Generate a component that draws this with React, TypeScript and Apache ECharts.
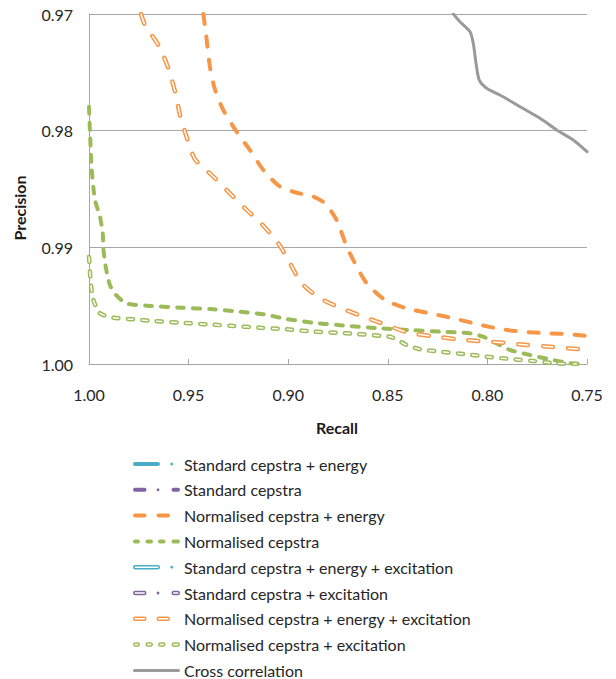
import React, { useEffect, useRef } from "react";
import * as echarts from "echarts";

// ---- data: [recall, precision] ----
const recallTicks = [1.0, 0.95, 0.9, 0.85, 0.8, 0.75];
const precisionTicks = [0.97, 0.98, 0.99, 1.0];

const standardEnergy: number[][] = [];
const standard: number[][] = [];
const standardEnergyExc: number[][] = [];
const standardExc: number[][] = [];

const normEnergy = [
  [0.9426, 0.97], [0.9413, 0.97165], [0.9393, 0.97452], [0.9367, 0.97651], [0.9326, 0.97823],
  [0.9259, 0.98009], [0.9192, 0.98166], [0.9125, 0.98337], [0.9041, 0.9848], [0.8957, 0.98532],
  [0.8874, 0.98566], [0.8815, 0.98623], [0.8757, 0.98766], [0.8706, 0.98995], [0.8656, 0.99166],
  [0.8606, 0.99308], [0.8514, 0.99451], [0.8405, 0.99523], [0.8288, 0.99566], [0.8171, 0.99608],
  [0.8054, 0.99657], [0.7937, 0.997], [0.7828, 0.99723], [0.7702, 0.99737], [0.7585, 0.99745],
  [0.75, 0.9976],
];

const normCep = [
  [1.0, 0.97795], [0.9995, 0.9802], [0.9986, 0.98337], [0.997, 0.98594], [0.9945, 0.98737],
  [0.9931, 0.9888], [0.9928, 0.99008], [0.9915, 0.99177], [0.9895, 0.99323], [0.9864, 0.99409],
  [0.9811, 0.9948], [0.971, 0.995], [0.9543, 0.99517], [0.9376, 0.99531], [0.9242, 0.99552],
  [0.9125, 0.99574], [0.9008, 0.99614], [0.8874, 0.99646], [0.8749, 0.99666], [0.8539, 0.99694],
  [0.8389, 0.99709], [0.8238, 0.99723], [0.8087, 0.99737], [0.8021, 0.99766], [0.797, 0.99809],
  [0.7886, 0.9988], [0.7786, 0.99923], [0.7686, 0.9996], [0.7602, 0.99989], [0.7535, 1.0],
];

const normEnergyExc = [
  [0.9739, 0.97], [0.9719, 0.97094], [0.9647, 0.9728], [0.9602, 0.97465], [0.9568, 0.97666],
  [0.9543, 0.97866], [0.951, 0.98052], [0.9468, 0.98245], [0.9384, 0.9838], [0.9301, 0.98523],
  [0.9217, 0.98665], [0.9128, 0.98809], [0.905, 0.98965], [0.8991, 0.99137], [0.8932, 0.99308],
  [0.884, 0.99437], [0.8731, 0.99523], [0.8623, 0.99594], [0.8506, 0.99666], [0.8397, 0.99732],
  [0.828, 0.9976], [0.8163, 0.99786], [0.8046, 0.99803], [0.792, 0.99817], [0.7803, 0.99837],
  [0.7686, 0.99852], [0.7569, 0.99869], [0.75, 0.99876],
];

const normExc = [
  [1.0, 0.99083], [0.9991, 0.99306], [0.9978, 0.99451], [0.9945, 0.99565], [0.9878, 0.99603],
  [0.9778, 0.99617], [0.9677, 0.99631], [0.9543, 0.99646], [0.9409, 0.9966], [0.9276, 0.99674],
  [0.9142, 0.99689], [0.9008, 0.99702], [0.8874, 0.99723], [0.8757, 0.99732], [0.8656, 0.99743],
  [0.8531, 0.9976], [0.848, 0.99771], [0.8405, 0.99837], [0.8338, 0.99874], [0.8238, 0.99894],
  [0.8121, 0.99914], [0.8004, 0.99937], [0.7886, 0.99957], [0.777, 0.99974], [0.7652, 0.99994],
  [0.7552, 1.0],
];

const crossCorr = [
  [0.8171, 0.97], [0.8138, 0.97066], [0.8087, 0.97152], [0.8071, 0.97251], [0.8057, 0.97423],
  [0.8041, 0.97566], [0.8004, 0.97637], [0.7937, 0.97694], [0.7836, 0.97795], [0.7736, 0.97894],
  [0.7652, 0.97994], [0.7569, 0.9808], [0.75, 0.9818],
];

// ---- styles ----
const TEAL = "#4BACC6";
const PURPLE = "#8064A2";
const ORANGE = "#F79646";
const GREEN = "#9BBB59";
const GRAY = "#9a9a9a";
const FONT = "Lato, 'Open Sans', sans-serif";
const AXIS_GRAY = "#a6a6a6";
const TEXT = "#262626";

type Entry = {
  name: string;
  data: number[][];
  color: string;
  hollow: boolean;
  width: number;
  dash: number[] | "solid";
  segs: number[][];
  dots: number[];
};

const entries: Entry[] = [
  { name: "Standard cepstra + energy", data: standardEnergy, color: TEAL, hollow: false, width: 4, dash: [14, 10, 0.1, 10], segs: [[0, 27]], dots: [38.7] },
  { name: "Standard cepstra", data: standard, color: PURPLE, hollow: false, width: 4, dash: [10, 8, 0.1, 8], segs: [[0, 13.5], [38.5, 47]], dots: [25] },
  { name: "Normalised cepstra + energy", data: normEnergy, color: ORANGE, hollow: false, width: 4, dash: [10, 13], segs: [[0, 13.5], [23.5, 37]], dots: [] },
  { name: "Normalised cepstra", data: normCep, color: GREEN, hollow: false, width: 4, dash: [7, 9], segs: [[0, 7], [12.5, 20], [25, 32.5], [38.5, 47]], dots: [] },
  { name: "Standard cepstra + energy + excitation", data: standardEnergyExc, color: TEAL, hollow: true, width: 4.5, dash: [14, 10, 0.1, 10], segs: [[0, 27]], dots: [38.7] },
  { name: "Standard cepstra + excitation", data: standardExc, color: PURPLE, hollow: true, width: 4.5, dash: [10, 8, 0.1, 8], segs: [[0, 13.5], [38.5, 47]], dots: [25] },
  { name: "Normalised cepstra + energy + excitation", data: normEnergyExc, color: ORANGE, hollow: true, width: 4.5, dash: [10, 15], segs: [[0, 13.5], [23.5, 37]], dots: [] },
  { name: "Normalised cepstra + excitation", data: normExc, color: GREEN, hollow: true, width: 4.5, dash: [5, 9.5], segs: [[0, 7], [12.5, 20], [25, 32.5], [38.5, 47]], dots: [] },
  { name: "Cross correlation", data: crossCorr, color: GRAY, hollow: false, width: 3, dash: "solid", segs: [[0, 47]], dots: [] },
];

export default function App() {
  const ref = useRef<HTMLDivElement>(null);

  useEffect(() => {
    if (!ref.current) return;
    const chart = echarts.init(ref.current, undefined, { renderer: "svg" });

    const series: any[] = [];
    entries.forEach((e) => {
      series.push({
        type: "line",
        name: e.name,
        data: e.data,
        showSymbol: false,
        symbol: "none",
        smooth: 0.25,
        clip: true,
        lineStyle: { color: e.color, width: e.width, type: e.dash, cap: "round", join: "round" },
        itemStyle: { color: e.color },
        z: 3,
      });
      if (e.hollow) {
        series.push({
          type: "line",
          name: e.name + " ",
          data: e.data,
          showSymbol: false,
          symbol: "none",
          smooth: 0.25,
          clip: true,
          lineStyle: { color: "#ffffff", width: 1.5, type: e.dash, cap: "round", join: "round" },
          z: 4,
        });
      }
    });

    // legend drawn as graphic
    const legendX = 133;
    const legendY0 = 464;
    const legendStep = 25.8;
    const graphics: any[] = [];
    entries.forEach((e, i) => {
      const y = legendY0 + i * legendStep;
      e.segs.forEach(([a, b]) => {
        const x1 = legendX + a + e.width / 2;
        const x2 = legendX + b - e.width / 2;
        graphics.push({
          type: "line",
          shape: { x1, y1: y, x2, y2: y },
          style: { stroke: e.color, lineWidth: e.width, lineCap: "round" },
        });
        if (e.hollow) {
          graphics.push({
            type: "line",
            shape: { x1, y1: y, x2, y2: y },
            style: { stroke: "#ffffff", lineWidth: 1.5, lineCap: "round" },
          });
        }
      });
      e.dots.forEach((d) => {
        graphics.push({
          type: "circle",
          shape: { cx: legendX + d, cy: y, r: 1.4 },
          style: { fill: e.color },
        });
      });
      graphics.push({
        type: "text",
        x: 184,
        y,
        style: {
          text: e.name,
          fill: TEXT,
          fontSize: 16,
          fontFamily: FONT,
          align: "left",
          verticalAlign: "middle",
        },
      });
    });
    graphics.push({
      type: "text",
      x: 337,
      y: 427,
      style: { text: "Recall", fill: "#1a1a1a", fontSize: 16, fontWeight: "bold", fontFamily: FONT, align: "center", verticalAlign: "middle" },
    });
    graphics.push({
      type: "text",
      x: 19,
      y: 208,
      rotation: Math.PI / 2,
      style: { text: "Precision", fill: "#1a1a1a", fontSize: 16, fontWeight: "bold", fontFamily: FONT, align: "center", verticalAlign: "middle" },
    });

    chart.setOption({
      animation: false,
      backgroundColor: "#ffffff",
      grid: { left: 89, right: 29, top: 14, bottom: 315, containLabel: false },
      xAxis: {
        type: "value",
        inverse: true,
        min: recallTicks[recallTicks.length - 1],
        max: recallTicks[0],
        interval: 0.05,
        axisLine: { show: true, lineStyle: { color: AXIS_GRAY, width: 1 } },
        axisTick: { show: true, inside: true, length: 5, lineStyle: { color: AXIS_GRAY } },
        splitLine: { show: false },
        axisLabel: {
          margin: 22,
          fontSize: 16,
          fontFamily: FONT,
          color: TEXT,
          formatter: (v: number) => v.toFixed(2),
        },
      },
      yAxis: {
        type: "value",
        inverse: true,
        min: precisionTicks[0],
        max: precisionTicks[precisionTicks.length - 1],
        interval: 0.01,
        axisLine: { show: true, lineStyle: { color: AXIS_GRAY, width: 1 } },
        axisTick: { show: false },
        splitLine: { show: true, lineStyle: { color: AXIS_GRAY, width: 1 } },
        axisLabel: {
          margin: 16,
          fontSize: 16,
          fontFamily: FONT,
          color: TEXT,
          formatter: (v: number) => v.toFixed(2),
        },
      },
      series,
      graphic: graphics,
    });

    return () => chart.dispose();
  }, []);

  return (
    <div
      ref={ref}
      style={{ position: "absolute", left: 0, top: 0, width: 616, height: 679, background: "#fff" }}
    />
  );
}
